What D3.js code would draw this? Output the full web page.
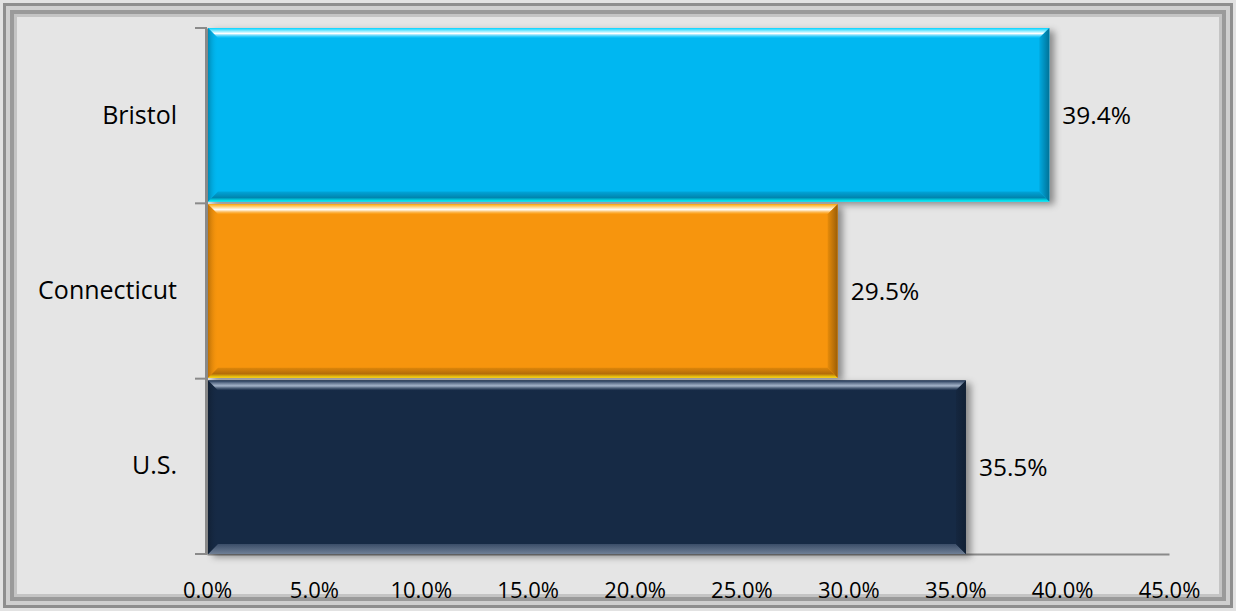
<!DOCTYPE html>
<html>
<head>
<meta charset="utf-8">
<script src="https://cdn.jsdelivr.net/npm/d3@7"></script>
<style>
  html, body { margin: 0; padding: 0; background: #ffffff; }
  svg { display: block; }
  text { font-family: "Open Sans", "Noto Sans", sans-serif; fill: #000; }
</style>
</head>
<body>
<svg id="chart" width="1236" height="611"></svg>
<script>
// Share of population by area
const categories = ["Bristol", "Connecticut", "U.S."];
const values = [39.4, 29.5, 35.5];
const barColors = ["#00b7f1", "#f7950b", "#172a45"];
const tickValues = [0, 5, 10, 15, 20, 25, 30, 35, 40, 45];

const W = 1236, H = 611;
const FONT = '"Open Sans", "Noto Sans", sans-serif';
const svg = d3.select("#chart");
const defs = svg.append("defs");

// Frame: beveled grey border round a light panel
svg.append("rect").attr("x", 0).attr("y", 0).attr("width", W).attr("height", H).attr("fill", "#e2e2e2");
svg.append("rect").attr("x", 4.5).attr("y", 4.5).attr("width", W - 9).attr("height", H - 9)
  .attr("fill", "#cfcfcf").attr("stroke", "#8e8e8e").attr("stroke-width", 3);
svg.append("rect").attr("x", 12).attr("y", 12).attr("width", W - 24).attr("height", H - 24)
  .attr("fill", "#e5e5e5").attr("stroke", "#9a9a9a").attr("stroke-width", 4);
svg.append("rect").attr("x", 15.5).attr("y", 15.5).attr("width", W - 31).attr("height", H - 31)
  .attr("fill", "none").attr("stroke", "#c4c4c4").attr("stroke-width", 3);

// Shadow filter for bars
const sh = defs.append("filter").attr("id", "shadow")
  .attr("x", "-5%").attr("y", "-10%").attr("width", "115%").attr("height", "130%");
sh.append("feDropShadow").attr("dx", 5).attr("dy", 3).attr("stdDeviation", 3.5)
  .attr("flood-color", "#000").attr("flood-opacity", 0.4);

const plotLeft = 207, plotRight = 1169, plotTop = 28, plotBottom = 554;
const x = d3.scaleLinear().domain([0, 45]).range([plotLeft, plotRight]);
const y = d3.scaleBand().domain(categories).range([plotTop, plotBottom]).paddingInner(0.015).paddingOuter(0);

// Value axis
const xAxis = d3.axisBottom(x).tickValues(tickValues)
  .tickFormat(d => d.toFixed(1) + "%").tickSize(0).tickPadding(28);
const gx = svg.append("g").attr("transform", `translate(0,${plotBottom})`).call(xAxis);
gx.select(".domain").attr("stroke", "#8a8a8a").attr("stroke-width", 2);
gx.selectAll("text").attr("font-size", 22).attr("fill", "#000").style("font-family", FONT);

// Category axis
const yAxisScale = d3.scaleBand().domain(categories).range([plotTop, plotBottom]);
const yAxis = d3.axisLeft(yAxisScale).tickSize(0).tickPadding(29);
const gy = svg.append("g").attr("transform", `translate(${plotLeft - 1},0)`).call(yAxis);
gy.select(".domain").attr("stroke", "#8a8a8a").attr("stroke-width", 3);
gy.selectAll("text").attr("font-size", 25).attr("fill", "#000").style("font-family", FONT);
// Category separators
const sepY = [plotTop].concat(categories.map(c => yAxisScale(c) + yAxisScale.bandwidth()));
svg.append("g").selectAll("line").data(sepY).join("line")
  .attr("x1", 195).attr("x2", plotLeft).attr("y1", d => d).attr("y2", d => d)
  .attr("stroke", "#8a8a8a").attr("stroke-width", 2);

const pts = arr => arr.map(p => p.join(",")).join(" ");

// Bars with bevelled edges
const bars = svg.append("g").selectAll("g").data(categories).join("g");
bars.each(function (c, i) {
  const g = d3.select(this);
  const x0 = x(0) + 1, x1 = x(values[i]);
  const y0 = y(c), y1 = y(c) + y.bandwidth();
  const b = 10;
  const base = d3.color(barColors[i]);
  const dark = i === 2;
  g.append("rect").attr("x", x0).attr("y", y0).attr("width", x1 - x0).attr("height", y1 - y0)
    .attr("fill", base).attr("filter", "url(#shadow)");

  // top bevel with a bright streak
  const tg = defs.append("linearGradient").attr("id", "top" + i).attr("x1", 0).attr("y1", 0).attr("x2", 0).attr("y2", 1);
  tg.append("stop").attr("offset", "0%").attr("stop-color", base.brighter(0.4));
  tg.append("stop").attr("offset", "55%").attr("stop-color", dark ? "#c8d6ea" : "#ffffff").attr("stop-opacity", dark ? 0.8 : 1);
  tg.append("stop").attr("offset", "100%").attr("stop-color", base.brighter(0.2)).attr("stop-opacity", 0.4);
  g.append("polygon").attr("points", pts([[x0, y0], [x1, y0], [x1 - b, y0 + b], [x0 + b, y0 + b]]))
    .attr("fill", `url(#top${i})`);

  // bottom bevel
  const bg = defs.append("linearGradient").attr("id", "bot" + i).attr("x1", 0).attr("y1", 0).attr("x2", 0).attr("y2", 1);
  if (dark) {
    bg.append("stop").attr("offset", "0%").attr("stop-color", "#3a4d68");
    bg.append("stop").attr("offset", "100%").attr("stop-color", "#6f7f95");
  } else {
    bg.append("stop").attr("offset", "0%").attr("stop-color", base.darker(0.3));
    bg.append("stop").attr("offset", "60%").attr("stop-color", base.darker(0.9));
    bg.append("stop").attr("offset", "100%").attr("stop-color", base.brighter(1.2));
  }
  g.append("polygon").attr("points", pts([[x0, y1], [x1, y1], [x1 - b, y1 - b], [x0 + b, y1 - b]]))
    .attr("fill", `url(#bot${i})`);

  // right bevel
  const rg = defs.append("linearGradient").attr("id", "rgt" + i).attr("x1", 0).attr("y1", 0).attr("x2", 1).attr("y2", 0);
  rg.append("stop").attr("offset", "0%").attr("stop-color", base.darker(0.2));
  rg.append("stop").attr("offset", "100%").attr("stop-color", base.darker(dark ? 0.8 : 1.3));
  g.append("polygon").attr("points", pts([[x1, y0], [x1, y1], [x1 - b, y1 - b], [x1 - b, y0 + b]]))
    .attr("fill", `url(#rgt${i})`);

  // left bevel
  const lg = defs.append("linearGradient").attr("id", "lft" + i).attr("x1", 0).attr("y1", 0).attr("x2", 1).attr("y2", 0);
  lg.append("stop").attr("offset", "0%").attr("stop-color", base.darker(0.8));
  lg.append("stop").attr("offset", "100%").attr("stop-color", base).attr("stop-opacity", 0);
  g.append("polygon").attr("points", pts([[x0, y0], [x0, y1], [x0 + b, y1 - b], [x0 + b, y0 + b]]))
    .attr("fill", `url(#lft${i})`);
});

// Value labels
svg.append("g").selectAll("text").data(categories).join("text")
  .attr("x", (c, i) => x(values[i]) + 13)
  .attr("y", c => y(c) + y.bandwidth() / 2 + 9)
  .attr("font-size", 24.5)
  .style("font-family", FONT)
  .text((c, i) => values[i].toFixed(1) + "%");
</script>
</body>
</html>
